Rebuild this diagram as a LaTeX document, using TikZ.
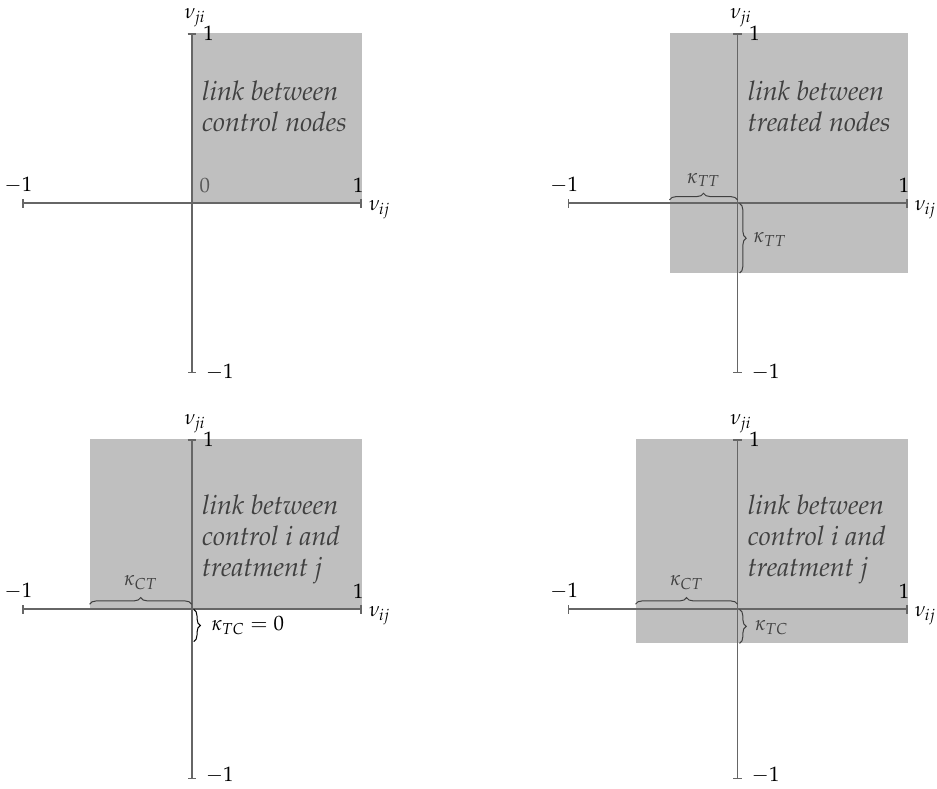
\documentclass[tikz,border=0pt]{standalone}
\usepackage[T1]{fontenc}
\usepackage{mathpazo}
\usetikzlibrary{decorations.pathreplacing,arrows.meta}
\definecolor{shadec}{HTML}{BFBFBF}
\definecolor{axisc}{HTML}{666666}
\definecolor{intext}{HTML}{404040}
\definecolor{zeroc}{HTML}{5A5A5A}
\tikzset{
  axisline/.style={draw=axisc, line width=1.1pt, {Bar[width=5pt]}-{Bar[width=5pt]}},
  region/.style={fill=shadec, draw=none},
  regiontext/.style={font=\fontsize{16.2}{18.6}\selectfont\itshape, text=intext, align=left, anchor=north west, inner sep=0pt},
  lab/.style={inner sep=0pt, font=\fontsize{12.5}{15}\selectfont},
  brc/.style={decorate, decoration={brace, amplitude=4pt}, draw=intext, line width=0.6pt},
  panel/.style={x=102pt, y=102pt}
}
\begin{document}
\begin{tikzpicture}
\useasboundingbox (0,0) rectangle (562.2pt,-473.4pt);
% ---------- top left
\begin{scope}[panel, shift={(115pt,-122pt)}]
  \fill[region] (0,0) rectangle (1,1);
  \coordinate (p1L) at (-1,0); \coordinate (p1R) at (1,0);
  \coordinate (p1B) at (0,-1); \coordinate (p1T) at (0,1);
  \draw[axisline] (p1L) -- (p1R);
  \draw[axisline] (p1B) -- (p1T);
  \node[lab] (p1vji) at (0.02,1.09) {$\nu_{ji}$};
  \node[lab] (p1one) at (0.10,1.0) {$1$};
  \node[lab] (p1mone) at (0.165,-0.99) {$-1$};
  \node[lab] (p1left) at (-1.02,0.105) {$-1$};
  \node[lab] (p1right) at (0.98,0.105) {$1$};
  \node[lab] (p1vij) at (1.105,-0.035) {$\nu_{ij}$};
  \node[lab, text=zeroc] (p1zero) at (0.078,0.106) {$0$};
  \node[regiontext] (p1text) at (0.059,0.724) {link between\\control nodes};
\end{scope}
% ---------- top right
\begin{scope}[panel, shift={(442.5pt,-122pt)}]
  \fill[region] (-0.4,-0.41) rectangle (1,1);
  \coordinate (p2L) at (-1,0); \coordinate (p2R) at (1,0);
  \coordinate (p2B) at (0,-1); \coordinate (p2T) at (0,1);
  \draw[axisline] (p2L) -- (p2R);
  \draw[axisline] (p2B) -- (p2T);
  \coordinate (p2ha) at (-0.4,0.02); \coordinate (p2hb) at (0,0.02);
  \draw[brc] (p2ha) -- (p2hb);
  \coordinate (p2va) at (0.012,0); \coordinate (p2vb) at (0.012,-0.41);
  \draw[brc] (p2va) -- (p2vb);
  \node[lab, text=intext] (p2k1) at (-0.2,0.137) {$\kappa_{TT}$};
  \node[lab, text=intext] (p2k2) at (0.19,-0.215) {$\kappa_{TT}$};
  \node[lab] (p2vji) at (0.02,1.09) {$\nu_{ji}$};
  \node[lab] (p2one) at (0.10,1.0) {$1$};
  \node[lab] (p2mone) at (0.165,-0.99) {$-1$};
  \node[lab] (p2left) at (-1.02,0.105) {$-1$};
  \node[lab] (p2right) at (0.98,0.105) {$1$};
  \node[lab] (p2vij) at (1.105,-0.035) {$\nu_{ij}$};
  \node[regiontext] (p2text) at (0.059,0.724) {link between\\treated nodes};
\end{scope}
% ---------- bottom left
\begin{scope}[panel, shift={(115pt,-365.6pt)}]
  \fill[region] (-0.6,0) rectangle (1,1);
  \coordinate (p3L) at (-1,0); \coordinate (p3R) at (1,0);
  \coordinate (p3B) at (0,-1); \coordinate (p3T) at (0,1);
  \draw[axisline] (p3L) -- (p3R);
  \draw[axisline] (p3B) -- (p3T);
  \coordinate (p3ha) at (-0.6,0.03); \coordinate (p3hb) at (0,0.03);
  \draw[brc] (p3ha) -- (p3hb);
  \coordinate (p3va) at (0.012,0); \coordinate (p3vb) at (0.012,-0.19);
  \draw[brc, draw=black] (p3va) -- (p3vb);
  \node[lab, text=intext] (p3k1) at (-0.3,0.155) {$\kappa_{CT}$};
  \node[lab] (p3k2) at (0.33,-0.095) {$\kappa_{TC} = 0$};
  \node[lab] (p3vji) at (0.02,1.09) {$\nu_{ji}$};
  \node[lab] (p3one) at (0.10,1.0) {$1$};
  \node[lab] (p3mone) at (0.165,-0.975) {$-1$};
  \node[lab] (p3left) at (-1.02,0.105) {$-1$};
  \node[lab] (p3right) at (0.98,0.105) {$1$};
  \node[lab] (p3vij) at (1.105,-0.035) {$\nu_{ij}$};
  \node[regiontext] (p3text) at (0.059,0.676) {link between\\control i and\\treatment j};
\end{scope}
% ---------- bottom right
\begin{scope}[panel, shift={(442.5pt,-365.6pt)}]
  \fill[region] (-0.6,-0.2) rectangle (1,1);
  \coordinate (p4L) at (-1,0); \coordinate (p4R) at (1,0);
  \coordinate (p4B) at (0,-1); \coordinate (p4T) at (0,1);
  \draw[axisline] (p4L) -- (p4R);
  \draw[axisline] (p4B) -- (p4T);
  \coordinate (p4ha) at (-0.6,0.03); \coordinate (p4hb) at (0,0.03);
  \draw[brc] (p4ha) -- (p4hb);
  \coordinate (p4va) at (0.012,0); \coordinate (p4vb) at (0.012,-0.2);
  \draw[brc] (p4va) -- (p4vb);
  \node[lab, text=intext] (p4k1) at (-0.3,0.155) {$\kappa_{CT}$};
  \node[lab, text=intext] (p4k2) at (0.2,-0.105) {$\kappa_{TC}$};
  \node[lab] (p4vji) at (0.02,1.09) {$\nu_{ji}$};
  \node[lab] (p4one) at (0.10,1.0) {$1$};
  \node[lab] (p4mone) at (0.165,-0.975) {$-1$};
  \node[lab] (p4left) at (-1.02,0.105) {$-1$};
  \node[lab] (p4right) at (0.98,0.105) {$1$};
  \node[lab] (p4vij) at (1.105,-0.035) {$\nu_{ij}$};
  \node[regiontext] (p4text) at (0.059,0.676) {link between\\control i and\\treatment j};
\end{scope}
\end{tikzpicture}
\end{document}
